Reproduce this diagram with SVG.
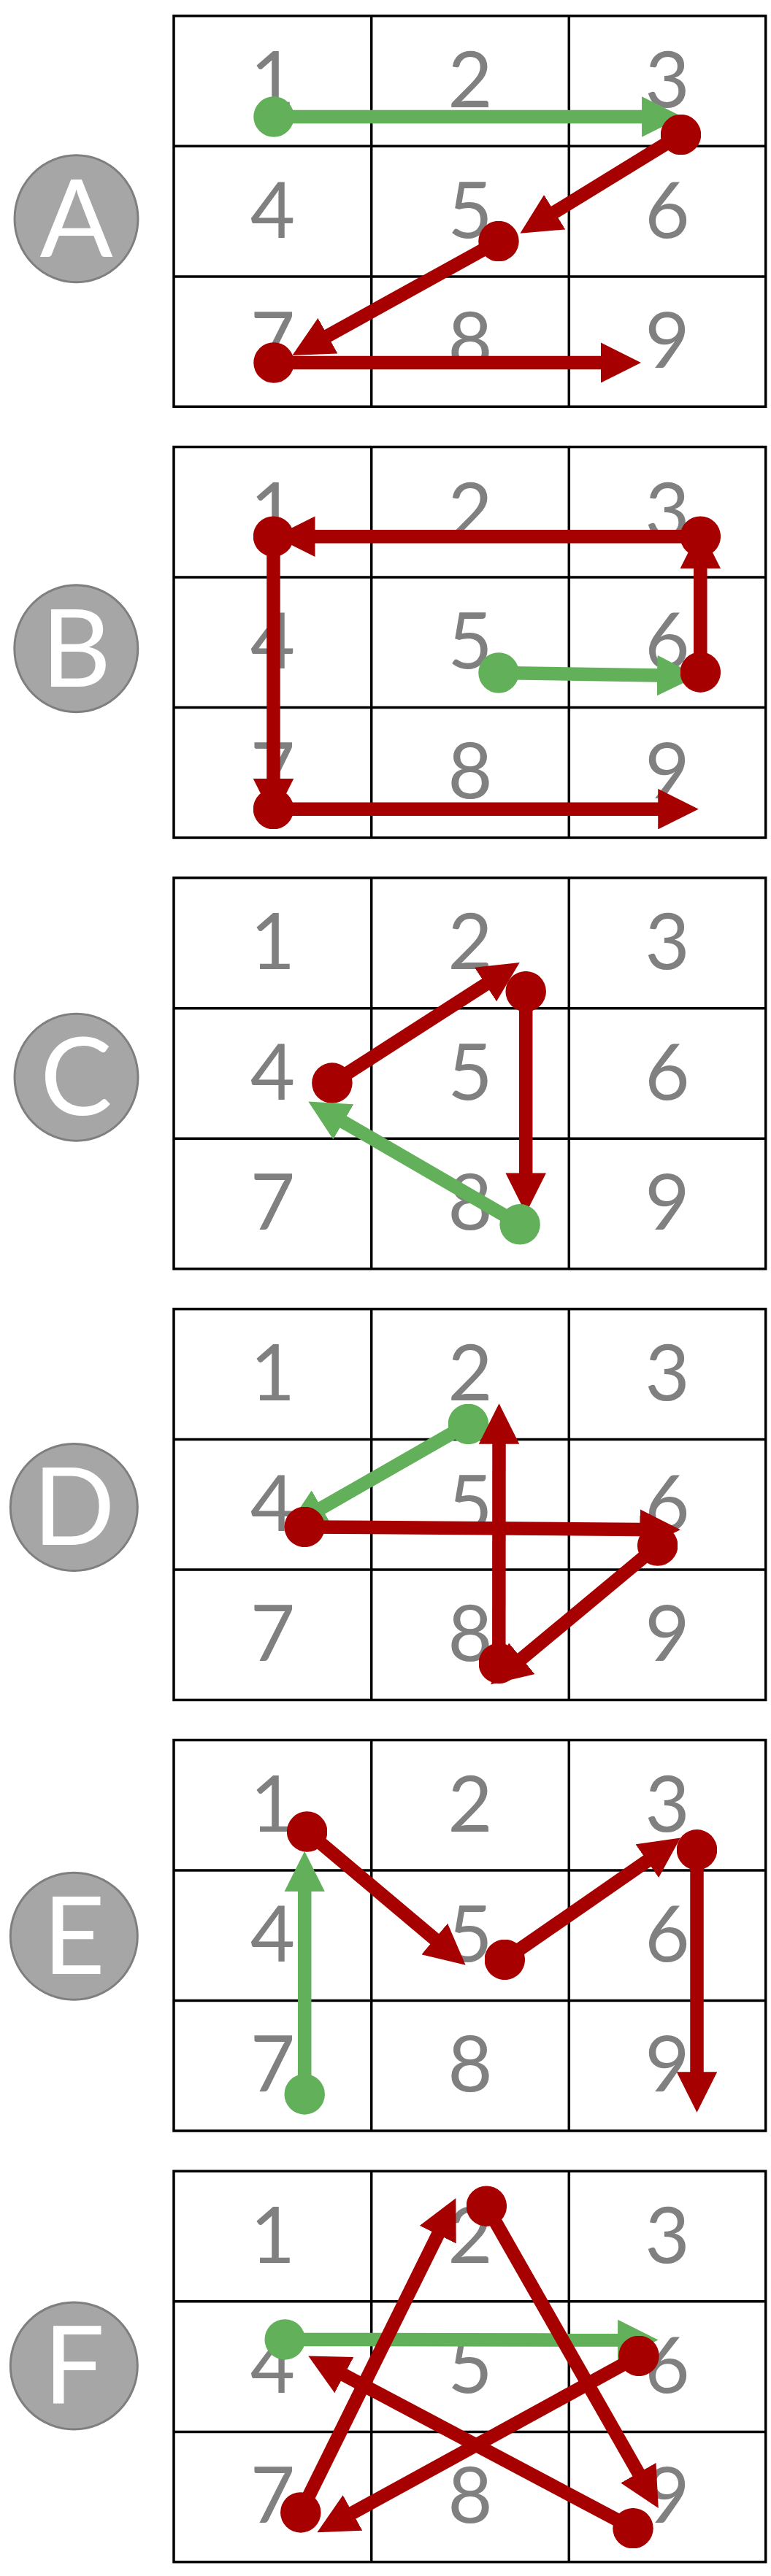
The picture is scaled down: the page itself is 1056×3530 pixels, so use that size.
<svg xmlns="http://www.w3.org/2000/svg" width="1056" height="3530" viewBox="0 0 1056 3530">
<style>
.grid{fill:none;stroke:#000;stroke-width:3.5}
.dg{font-family:Lato,"Open Sans","Liberation Sans",sans-serif;font-size:106px;fill:#808080;text-anchor:middle}
.badge{fill:#a6a6a6;stroke:#7f7f7f;stroke-width:3}
.bt{font-family:Lato,"Open Sans","Liberation Sans",sans-serif;font-size:148px;fill:#fff;text-anchor:middle}
.r{fill:none;stroke:#a60000;stroke-width:18.5;marker-start:url(#dotR);marker-end:url(#arrR)}
.g{fill:none;stroke:#63b05a;stroke-width:18.5;marker-start:url(#dotG);marker-end:url(#arrG)}
</style>
<defs>
<marker id="dotR" viewBox="-1.5 -1.5 3 3" markerWidth="3" markerHeight="3" refX="0" refY="0" markerUnits="strokeWidth"><circle r="1.5" fill="#a60000"/></marker>
<marker id="dotG" viewBox="-1.5 -1.5 3 3" markerWidth="3" markerHeight="3" refX="0" refY="0" markerUnits="strokeWidth"><circle r="1.5" fill="#63b05a"/></marker>
<marker id="arrR" viewBox="0 0 3 3" markerWidth="3" markerHeight="3" refX="0.05" refY="1.5" orient="auto" markerUnits="strokeWidth"><path d="M0,0 L3,1.5 L0,3 Z" fill="#a60000"/></marker>
<marker id="arrG" viewBox="0 0 3 3" markerWidth="3" markerHeight="3" refX="0.05" refY="1.5" orient="auto" markerUnits="strokeWidth"><path d="M0,0 L3,1.5 L0,3 Z" fill="#63b05a"/></marker>
<path id="gridPath" d="M238,21.7 H1048.7 V557.3 H238 Z M508.7,21.7 V557.3 M779.3,21.7 V557.3 M238,200.3 H1048.7 M238,378.9 H1048.7"/>
</defs>

<g id="panelA">
<g id="labelA"><ellipse class="badge" cx="104.5" cy="299.7" rx="84.5" ry="87"/><text class="bt" x="104.5" y="352">A</text></g>
<g id="gridA"><use href="#gridPath" class="grid"/>
<text class="dg" x="373.4" y="147">1</text><text class="dg" x="644" y="147">2</text><text class="dg" x="914" y="147">3</text>
<text class="dg" x="373.4" y="325.5">4</text><text class="dg" x="644" y="325.5">5</text><text class="dg" x="914" y="325.5">6</text>
<text class="dg" x="373.4" y="503.5">7</text><text class="dg" x="644" y="503.5">8</text><text class="dg" x="914" y="503.5">9</text></g>
<g id="connectorsA">
<line class="g" x1="375" y1="160" x2="880" y2="160"/>
<line class="r" x1="932.5" y1="184.5" x2="758.9" y2="291.2"/>
<line class="r" x1="683" y1="330.5" x2="448.1" y2="460.6"/>
<line class="r" x1="375" y1="497" x2="823.5" y2="497"/>
</g>
</g>

<g id="panelB" transform="translate(0,590.7)">
<g id="labelB"><ellipse class="badge" cx="104.3" cy="298.1" rx="84.5" ry="87"/><text class="bt" x="104.3" y="350">B</text></g>
<g id="gridB"><use href="#gridPath" class="grid"/>
<text class="dg" x="373.4" y="147">1</text><text class="dg" x="644" y="147">2</text><text class="dg" x="914" y="147">3</text>
<text class="dg" x="373.4" y="325.5">4</text><text class="dg" x="644" y="325.5">5</text><text class="dg" x="914" y="325.5">6</text>
<text class="dg" x="373.4" y="503.5">7</text><text class="dg" x="644" y="503.5">8</text><text class="dg" x="914" y="503.5">9</text></g>
<g id="connectorsB">
<line class="g" x1="683" y1="331.3" x2="901" y2="334.9"/>
<line class="r" x1="959.3" y1="330.5" x2="959.3" y2="187.5"/>
<line class="r" x1="959.3" y1="144.5" x2="430.6" y2="144.5"/>
<line class="r" x1="374.5" y1="144.5" x2="374.5" y2="477.3"/>
<line class="r" x1="374.5" y1="518" x2="902.2" y2="518"/>
</g>
</g>

<g id="panelC" transform="translate(0,1181.4)">
<g id="labelC"><ellipse class="badge" cx="104.5" cy="294.8" rx="84.5" ry="87"/><text class="bt" x="104.5" y="346.8">C</text></g>
<g id="gridC"><use href="#gridPath" class="grid"/>
<text class="dg" x="373.4" y="147">1</text><text class="dg" x="644" y="147">2</text><text class="dg" x="914" y="147">3</text>
<text class="dg" x="373.4" y="325.5">4</text><text class="dg" x="644" y="325.5">5</text><text class="dg" x="914" y="325.5">6</text>
<text class="dg" x="373.4" y="503.5">7</text><text class="dg" x="644" y="503.5">8</text><text class="dg" x="914" y="503.5">9</text></g>
<g id="connectorsC">
<line class="r" x1="454.9" y1="302.7" x2="665.8" y2="167.1"/>
<line class="r" x1="720.2" y1="177.3" x2="720.2" y2="427"/>
<line class="g" x1="712.1" y1="496.4" x2="469.5" y2="355.5"/>
</g>
</g>

<g id="panelD" transform="translate(0,1772.1)">
<g id="labelD"><ellipse class="badge" cx="101.3" cy="293.4" rx="87" ry="87"/><text class="bt" x="101.3" y="345.4">D</text></g>
<g id="gridD"><use href="#gridPath" class="grid"/>
<text class="dg" x="373.4" y="147">1</text><text class="dg" x="644" y="147">2</text><text class="dg" x="914" y="147">3</text>
<text class="dg" x="373.4" y="325.5">4</text><text class="dg" x="644" y="325.5">5</text><text class="dg" x="914" y="325.5">6</text>
<text class="dg" x="373.4" y="503.5">7</text><text class="dg" x="644" y="503.5">8</text><text class="dg" x="914" y="503.5">9</text></g>
<g id="connectorsD">
<line class="g" x1="641.4" y1="179.3" x2="439.8" y2="294.8"/>
<line class="r" x1="417.2" y1="320.3" x2="877.3" y2="323.8"/>
<line class="r" x1="900.7" y1="345.9" x2="714" y2="501.3"/>
<line class="r" x1="683.3" y1="507.2" x2="683.5" y2="205.7"/>
</g>
</g>

<g id="panelE" transform="translate(0,2362.7)">
<g id="labelE"><ellipse class="badge" cx="101.3" cy="290.5" rx="87" ry="87"/><text class="bt" x="101.3" y="342.5">E</text></g>
<g id="gridE"><use href="#gridPath" class="grid"/>
<text class="dg" x="373.4" y="147">1</text><text class="dg" x="644" y="147">2</text><text class="dg" x="914" y="147">3</text>
<text class="dg" x="373.4" y="325.5">4</text><text class="dg" x="644" y="325.5">5</text><text class="dg" x="914" y="325.5">6</text>
<text class="dg" x="373.4" y="503.5">7</text><text class="dg" x="644" y="503.5">8</text><text class="dg" x="914" y="503.5">9</text></g>
<g id="connectorsE">
<line class="g" x1="417.2" y1="507.2" x2="417.2" y2="228.6"/>
<line class="r" x1="420.6" y1="147.3" x2="595.9" y2="294.9"/>
<line class="r" x1="691.3" y1="322.7" x2="887.1" y2="187"/>
<line class="r" x1="954.5" y1="172.1" x2="954.5" y2="477.4"/>
</g>
</g>

<g id="panelF" transform="translate(0,2953.5)">
<g id="labelF"><ellipse class="badge" cx="101.3" cy="288.4" rx="87" ry="87"/><text class="bt" x="101.3" y="340.4">F</text></g>
<g id="gridF"><use href="#gridPath" class="grid"/>
<text class="dg" x="373.4" y="147">1</text><text class="dg" x="644" y="147">2</text><text class="dg" x="914" y="147">3</text>
<text class="dg" x="373.4" y="325.5">4</text><text class="dg" x="644" y="325.5">5</text><text class="dg" x="914" y="325.5">6</text>
<text class="dg" x="373.4" y="503.5">7</text><text class="dg" x="644" y="503.5">8</text><text class="dg" x="914" y="503.5">9</text></g>
<g id="connectorsF">
<line class="g" x1="390.2" y1="252.4" x2="847" y2="253"/>
<line class="r" x1="875" y1="274.9" x2="482.2" y2="490.4"/>
<line class="r" x1="411.8" y1="489.4" x2="600.2" y2="107.8"/>
<line class="r" x1="666.3" y1="69.7" x2="874.8" y2="436"/>
<line class="r" x1="867" y1="511.2" x2="470.5" y2="300.7"/>
</g>
</g>
</svg>
